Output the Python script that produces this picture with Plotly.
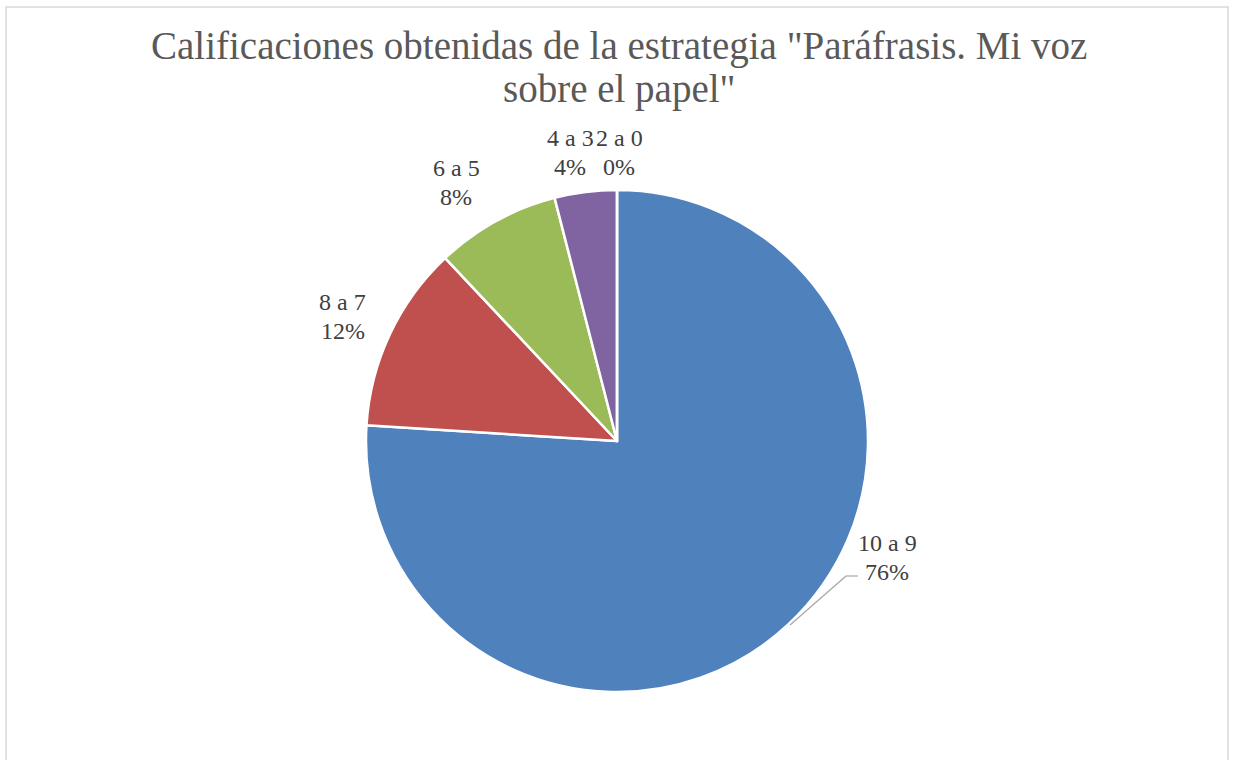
import plotly.graph_objects as go

labels = ["10 a 9", "8 a 7", "6 a 5", "4 a 3", "2 a 0"]
values = [76, 12, 8, 4, 0]
colors = ["#4F81BD", "#C0504D", "#9BBB59", "#8064A2", "#4BACC6"]
title_lines = ['Calificaciones obtenidas de la estrategia "Paráfrasis. Mi voz', 'sobre el papel"']

W, H = 1233, 760
FONT = "Liberation Serif"

# label positions (pixels, centre x, first-line y) for each slice label
label_pos = [(887, 543), (343, 302), (456, 168), (570, 138), (619, 138)]
LINE_GAP = 29

fig = go.Figure()
fig.add_trace(go.Pie(
    labels=labels, values=values, sort=False, direction="clockwise", rotation=0,
    marker=dict(colors=colors, line=dict(color="white", width=2.5)),
    textinfo="none", hoverinfo="label+percent", showlegend=False,
    domain=dict(x=[(617 - 251) / W, (617 + 251) / W], y=[(H - 692) / H, (H - 190) / H]),
))

total = sum(values)
annotations = []
for (lab, v), (px, py) in zip(zip(labels, values), label_pos):
    for j, txt in enumerate([lab, f"{round(100 * v / total)}%"]):
        annotations.append(dict(
            x=px / W, y=1 - (py + j * LINE_GAP) / H, xref="paper", yref="paper", showarrow=False,
            text=txt, font=dict(family=FONT, size=24, color="#404040"),
            xanchor="center", yanchor="middle",
        ))
for i, (line, cy) in enumerate(zip(title_lines, [46, 89])):
    annotations.append(dict(
        x=619 / W, y=1 - cy / H, xref="paper", yref="paper", showarrow=False,
        text=line, font=dict(family=FONT, size=39, color="#595959"),
        xanchor="center", yanchor="middle",
    ))

shapes = [
    dict(type="rect", xref="paper", yref="paper", x0=6 / W, x1=1228 / W, y0=-0.01, y1=1 - 7 / H,
         line=dict(color="#D9D9D9", width=1.5)),
    dict(type="line", xref="paper", yref="paper", x0=790 / W, y0=1 - 625 / H, x1=846 / W, y1=1 - 576 / H,
         line=dict(color="#A6A6A6", width=1.2)),
    dict(type="line", xref="paper", yref="paper", x0=846 / W, y0=1 - 576 / H, x1=858 / W, y1=1 - 576 / H,
         line=dict(color="#A6A6A6", width=1.2)),
]

fig.update_layout(
    width=W, height=H, margin=dict(l=0, r=0, t=0, b=0),
    paper_bgcolor="white", plot_bgcolor="white",
    annotations=annotations, shapes=shapes,
)
fig.write_html("out.html", config={"displayModeBar": False},
               post_script="document.body.style.margin='0';document.body.style.overflow='hidden';")
